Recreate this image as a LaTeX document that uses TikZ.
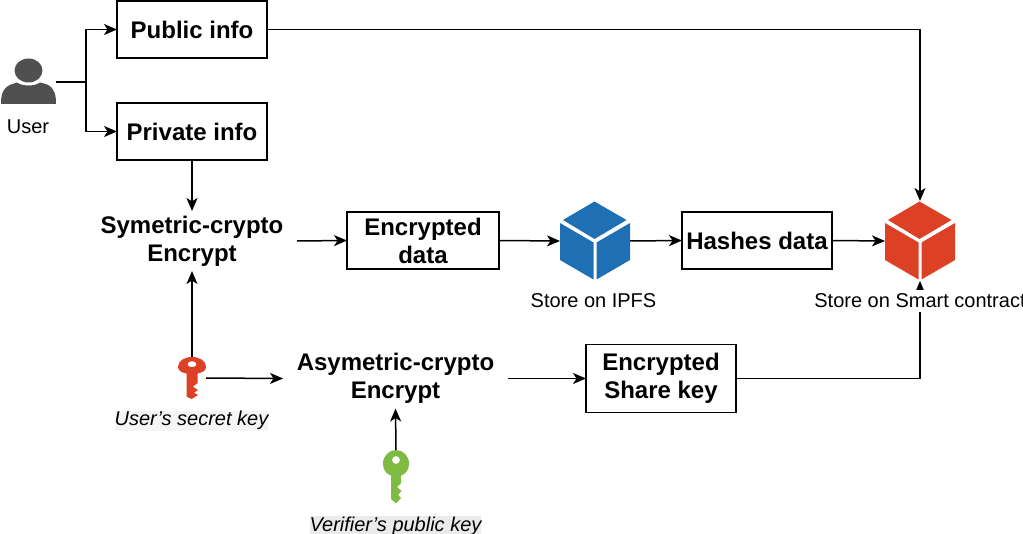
\documentclass[tikz,border=0pt]{standalone}
\usepackage{fontspec}
\setmainfont{Liberation Sans}
\usetikzlibrary{arrows.meta}
\definecolor{cubeblue}{HTML}{1F6FB5}
\definecolor{cubered}{HTML}{DD4125}
\definecolor{keygreen}{HTML}{7FBA42}
\definecolor{usergrey}{HTML}{505050}
\tikzset{
  x=1pt,y=-1pt,
  box/.style={draw=black,line width=1.5pt,fill=white,minimum width=150pt,inner sep=0pt,outer sep=0pt,align=center,font=\fontsize{24}{28}\selectfont\bfseries},
  plain/.style={inner sep=0pt,outer sep=0pt,align=center,font=\fontsize{24}{28}\selectfont\bfseries},
  icon/.style={inner sep=0pt,outer sep=0pt},
  lbl/.style={inner sep=0pt,outer sep=0pt,align=center,font=\fontsize{20}{24}\selectfont},
  keylbl/.style={inner sep=0pt,outer sep=0pt,font=\fontsize{20}{24}\selectfont\itshape,text height=15pt,text depth=5pt},
  conn/.style={draw=black,line width=1.5pt,-{Stealth[length=13pt,width=11pt,inset=3.5pt]}},
  plainline/.style={draw=black,line width=1.5pt}
}
\newcommand{\cubeicon}[2]{%
  \begin{scope}[shift={(#1,0)}]
    \fill[#2] (-0.5,201.5) -- (31.5,220) -- (-0.5,239) -- (-32,220) -- cycle;
    \fill[#2] (-35,223) -- (-1.5,242.5) -- (-1.5,279.5) -- (-35,260) -- cycle;
    \fill[#2] (1.5,242.5) -- (35,223) -- (35,260) -- (1.5,279.5) -- cycle;
  \end{scope}}
\begin{document}
\begin{tikzpicture}
\useasboundingbox (0,0) rectangle (1023,534);
% icons
\node[icon,minimum width=55pt,minimum height=46pt] (user) at (28.5,82) {};
\fill[usergrey] (28.5,70.5) ellipse [x radius=14,y radius=12];
\fill[usergrey] (1,104) .. controls (1,96) and (2,88) .. (11,84.5) .. controls (14,83.5) and (16,83) .. (17,82.5)
  .. controls (22,86.5) and (35,86.5) .. (40,82.5) .. controls (42,83) and (44,83.5) .. (47,84.5)
  .. controls (55,88) and (56,96) .. (56,104) -- cycle;
\node[icon,minimum width=28pt,minimum height=42pt] (redkey) at (192,378) {};
\fill[cubered,even odd rule] (186.7,373.6) .. controls (181.5,372.5) and (178,370.5) .. (178,367)
  .. controls (178,361) and (184,357) .. (192,357) .. controls (200,357) and (206,361) .. (206,367)
  .. controls (206,370.5) and (202.5,372.5) .. (197.5,373.6)
  -- (197.5,383) -- (192.8,386.7) -- (198,390) -- (194,392.7) -- (198,395) -- (191.7,399) -- (186.7,396.7) -- cycle
  (192,364.2) ellipse [x radius=4.5,y radius=3];
\node[icon,minimum width=26pt,minimum height=54pt] (greenkey) at (396,477) {};
\fill[keygreen,even odd rule] (391,475.5) .. controls (386,474) and (383,469.5) .. (383,463.5)
  .. controls (383,456) and (389,450) .. (396,450) .. controls (403,450) and (409,456) .. (409,463.5)
  .. controls (409,469.5) and (406,474) .. (401,475.5)
  -- (401,483) -- (397,487) -- (401.5,491) -- (398,495) -- (401,498) -- (396,503.5) -- (391,499) -- cycle
  (396,460) circle [radius=4];
\node[icon,minimum width=70pt,minimum height=80pt] (ipfs) at (595,241) {};
\cubeicon{595}{cubeblue}
\node[icon,minimum width=70pt,minimum height=80pt] (chain) at (920,241) {};
\cubeicon{920}{cubered}
% boxes
\node[box,minimum height=57pt] (public) at (192,29.5) {Public info};
\node[box,minimum height=57pt] (private) at (192,131.5) {Private info};
\node[box,minimum width=152pt,minimum height=57pt] (encdata) at (423,240.5) {Encrypted\\data};
\node[box,minimum height=57pt] (hashes) at (757,240.5) {Hashes data};
\node[box,minimum height=68pt] (sharekey) at (661,378.5) {Encrypted\\Share key};
\node[plain,minimum width=210pt,minimum height=60pt] (sym) at (192,241) {Symetric-crypto\\Encrypt};
\node[plain,minimum width=225pt,minimum height=60pt] (asym) at (395.5,378.5) {Asymetric-crypto\\Encrypt};
% connectors
\coordinate (split) at (86,82);
\draw[plainline] (user.east) -- (split);
\draw[conn] (split) |- (public.west);
\draw[conn] (split) |- (private.west);
\draw[conn] (private.south) -- (sym.north);
\draw[conn] (public.east) -| (chain.north);
\draw[conn] (sym.east) -- (encdata.west);
\draw[conn] (encdata.east) -- (ipfs.west);
\draw[conn] (ipfs.east) -- (hashes.west);
\draw[conn] (hashes.east) -- (chain.west);
\draw[conn] (redkey.north) -- (sym.south);
\draw[conn] (redkey.east) -- (asym.west);
\draw[conn] (greenkey.north) -- (asym.south);
\draw[conn] (asym.east) -- (sharekey.west);
\draw[conn] (sharekey.east) -| (chain.south);
% labels
\node[lbl] (userlbl) at (28,127) {User};
\node[lbl] (ipfslbl) at (593.5,301) {Store on IPFS};
\node[lbl,fill=white,minimum height=22pt] (chainlbl) at (920,301) {Store on Smart contract};
\node[keylbl,fill=black!4] (redlbl) at (191.5,421) {User's secret key};
\node[keylbl,fill=black!8] (greenlbl) at (395.5,526) {Verifier's public key};
\end{tikzpicture}
\end{document}
